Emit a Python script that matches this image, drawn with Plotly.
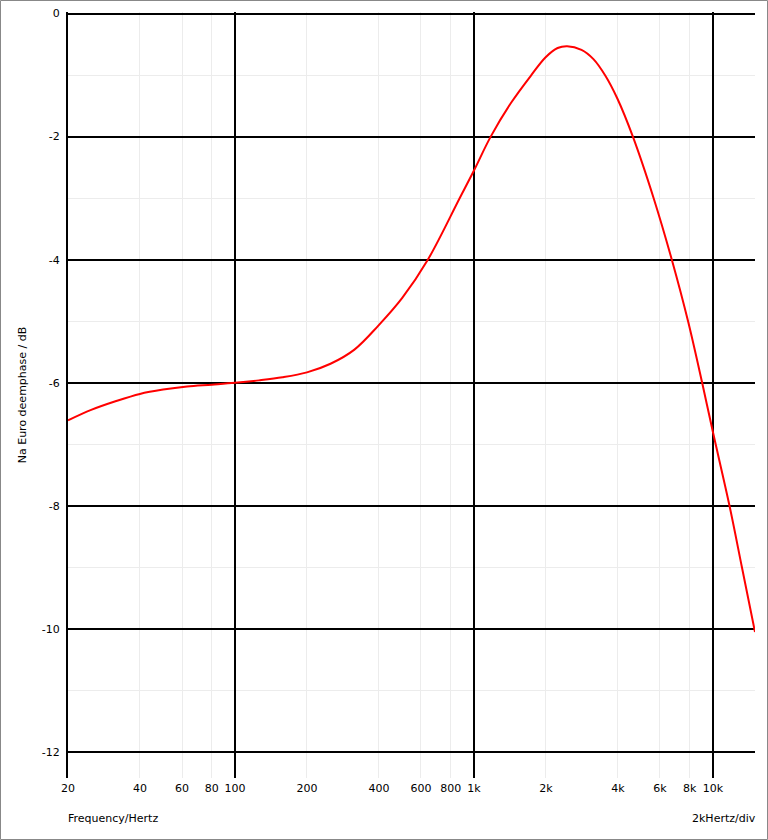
import math
import plotly.graph_objects as go

# Data (frequency in Hz, gain in dB)
freq_hz = [20, 25, 31.6, 40, 50, 63, 80, 100, 126, 158, 200, 251, 316, 398, 501,
           641, 871, 1000, 1175, 1430, 1738, 1995, 2239, 2455, 2818, 3162, 3548,
           3981, 4624, 5649, 6730, 7870, 9016, 10000, 11738, 13230, 15000]
gain_db = [-6.61, -6.44, -6.30, -6.18, -6.11, -6.06, -6.03, -6.00, -5.96, -5.91,
           -5.83, -5.69, -5.46, -5.07, -4.62, -4.00, -3.00, -2.55, -2.00, -1.45,
           -1.00, -0.71, -0.56, -0.53, -0.59, -0.74, -1.01, -1.38, -2.00, -3.00,
           -4.00, -5.00, -6.00, -6.80, -8.00, -9.00, -10.05]

x_tick_vals = [20, 40, 60, 80, 100, 200, 400, 600, 800, 1000, 2000, 4000, 6000, 8000, 10000]
x_tick_text = ["20", "40", "60", "80", "100", "200", "400", "600", "800",
               "1k", "2k", "4k", "6k", "8k", "10k"]
x_major_vals = [100, 1000, 10000]
y_tick_vals = [0, -2, -4, -6, -8, -10, -12]
y_tick_text = ["0", "-2", "-4", "-6", "-8", "-10", "-12"]

FONT = "DejaVu Sans"
W, H = 768, 840
ML, MR, MT, MB = 68, 13, 12, 62

fig = go.Figure()
fig.add_trace(go.Scatter(
    x=freq_hz, y=gain_db, mode="lines",
    line=dict(color="#ff0000", width=2, shape="spline", smoothing=1.0),
    hoverinfo="skip", showlegend=False,
))
# empty trace so that the overlaid major-grid axis is created
fig.add_trace(go.Scatter(x=[], y=[], xaxis="x2", yaxis="y",
                         hoverinfo="skip", showlegend=False))

xr = [math.log10(20), math.log10(15000)]
yr = [-12.42, 0.025]

pw = W - ML - MR
ph = H - MT - MB

fig.update_layout(
    width=W, height=H,
    margin=dict(l=ML, r=MR, t=MT, b=MB, autoexpand=False),
    paper_bgcolor="white", plot_bgcolor="white",
    font=dict(family=FONT, size=11, color="black"),
    xaxis=dict(
        type="log", range=xr, tickmode="array",
        tickvals=x_tick_vals, ticktext=x_tick_text,
        showgrid=True, gridcolor="#ececec", gridwidth=1,
        zeroline=False, showline=False, ticks="", ticklabelstandoff=2,
        automargin=False,
        tickfont=dict(family=FONT, size=11, color="black"),
    ),
    xaxis2=dict(
        type="log", range=xr, overlaying="x", anchor="y", side="bottom",
        tickmode="array", tickvals=x_major_vals, showticklabels=False,
        showgrid=True, gridcolor="black", gridwidth=2,
        zeroline=False, showline=False, ticks="", automargin=False,
    ),
    yaxis=dict(
        range=yr, tickmode="array", tickvals=y_tick_vals, ticktext=y_tick_text,
        showgrid=True, gridcolor="black", gridwidth=2,
        minor=dict(dtick=1, tick0=0, showgrid=True, gridcolor="#ececec", gridwidth=1, ticks=""),
        zeroline=False, showline=True, linecolor="black", linewidth=2,
        ticks="", ticklabelstandoff=4, automargin=False,
        tickfont=dict(family=FONT, size=11, color="black"),
        title=dict(text="Na Euro deemphase / dB", standoff=13,
                   font=dict(family=FONT, size=11, color="black")),
    ),
    annotations=[
        dict(text="Frequency/Hertz", xref="paper", yref="paper",
             x=0, y=-(818 - (H - MB)) / ph, xanchor="left", yanchor="middle",
             xshift=-2, showarrow=False,
             font=dict(family=FONT, size=11, color="black")),
        dict(text="2kHertz/div", xref="paper", yref="paper",
             x=1, y=-(818 - (H - MB)) / ph, xanchor="right", yanchor="middle",
             xshift=3, showarrow=False,
             font=dict(family=FONT, size=11, color="black")),
    ],
    shapes=[
        dict(type="rect", xref="paper", yref="paper",
             x0=(0.5 - ML) / pw, x1=(W - 0.5 - ML) / pw,
             y0=-((H - 0.5) - (MT + ph)) / ph, y1=(MT - 0.5) / ph + 1,
             line=dict(color="#888888", width=1), fillcolor="rgba(0,0,0,0)",
             layer="above"),
    ],
)

fig.write_html(
    "out.html",
    config={"displayModeBar": False},
    post_script=(
        "document.body.style.margin='0';document.body.style.padding='0';"
        "var gd=document.getElementById('{plot_id}');"
        "gd.style.position='absolute';gd.style.left='0px';gd.style.top='0px';"
    ),
)
